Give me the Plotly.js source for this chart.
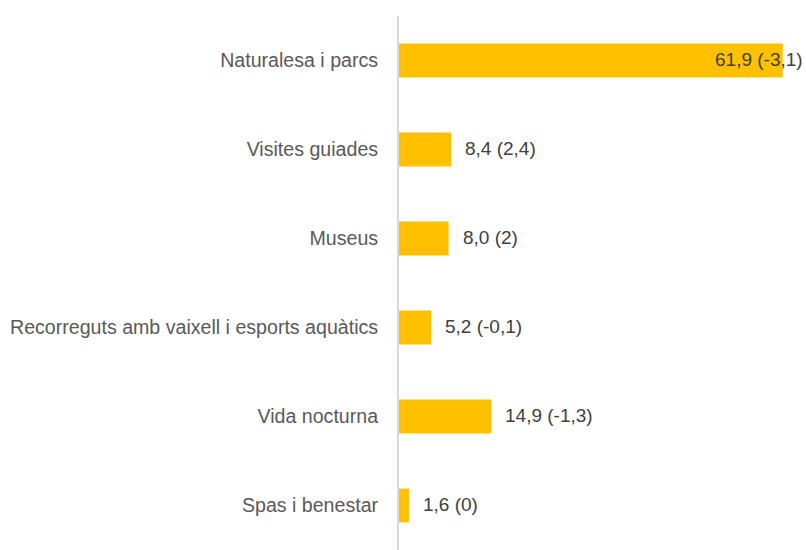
<!DOCTYPE html>
<html>
<head>
<meta charset="utf-8">
<script src="https://cdn.plot.ly/plotly-3.0.1.min.js"></script>
<style>html,body{margin:0;padding:0;background:#fff;}#chart{width:806px;height:550px;}</style>
</head>
<body>
<div id="chart"></div>
<script>
const categories = ["Naturalesa i parcs","Visites guiades","Museus","Recorreguts amb vaixell i esports aquàtics","Vida nocturna","Spas i benestar"];
const values = [61.9, 8.4, 8.0, 5.2, 14.9, 1.6];
const changes = ["-3,1", "2,4", "2", "-0,1", "-1,3", "0"];

const fmt = v => v.toFixed(1).replace('.', ',');
const labels = values.map((v, i) => fmt(v) + " (" + changes[i] + ")");

const W = 806, L = 399, R = 0;
const xmax = 65.65;
const pxPerUnit = (W - L - R) / xmax;
const valFont = 19;
const estWidth = s => s.length * valFont * 0.40;

const annotations = values.map((v, i) => {
  const start = L + v * pxPerUnit + 14;
  if (start + estWidth(labels[i]) > W) {
    return {x: xmax, y: categories[i], xref: 'x', yref: 'y', text: labels[i], showarrow: false,
      xanchor: 'right', xshift: -1, yshift: 1, font: {family: 'Liberation Sans, Arial, sans-serif', size: valFont, color: '#404040'}};
  }
  return {x: v, y: categories[i], xref: 'x', yref: 'y', text: labels[i], showarrow: false,
    xanchor: 'left', xshift: 12, yshift: 1, font: {family: 'Liberation Sans, Arial, sans-serif', size: valFont, color: '#404040'}};
});

const data = [{
  type: 'bar', orientation: 'h', x: values, y: categories,
  marker: {color: '#FFC000'}, width: 0.38, hoverinfo: 'none'
}];

const layout = {
  width: 806, height: 550,
  margin: {l: L, r: R, t: 16, b: 0},
  paper_bgcolor: '#fff', plot_bgcolor: '#fff',
  showlegend: false,
  xaxis: {range: [0, xmax], visible: false, fixedrange: true},
  yaxis: {
    autorange: 'reversed', type: 'category',
    showline: true, linecolor: '#d9d9d9', linewidth: 2,
    showgrid: false, zeroline: false, ticks: '',
    ticklabelstandoff: 15,
    tickfont: {family: 'Liberation Sans, Arial, sans-serif', size: 19.6, color: '#595959'}
  },
  annotations: annotations
};

Plotly.newPlot('chart', data, layout, {displayModeBar: false, staticPlot: true});
</script>
</body>
</html>
